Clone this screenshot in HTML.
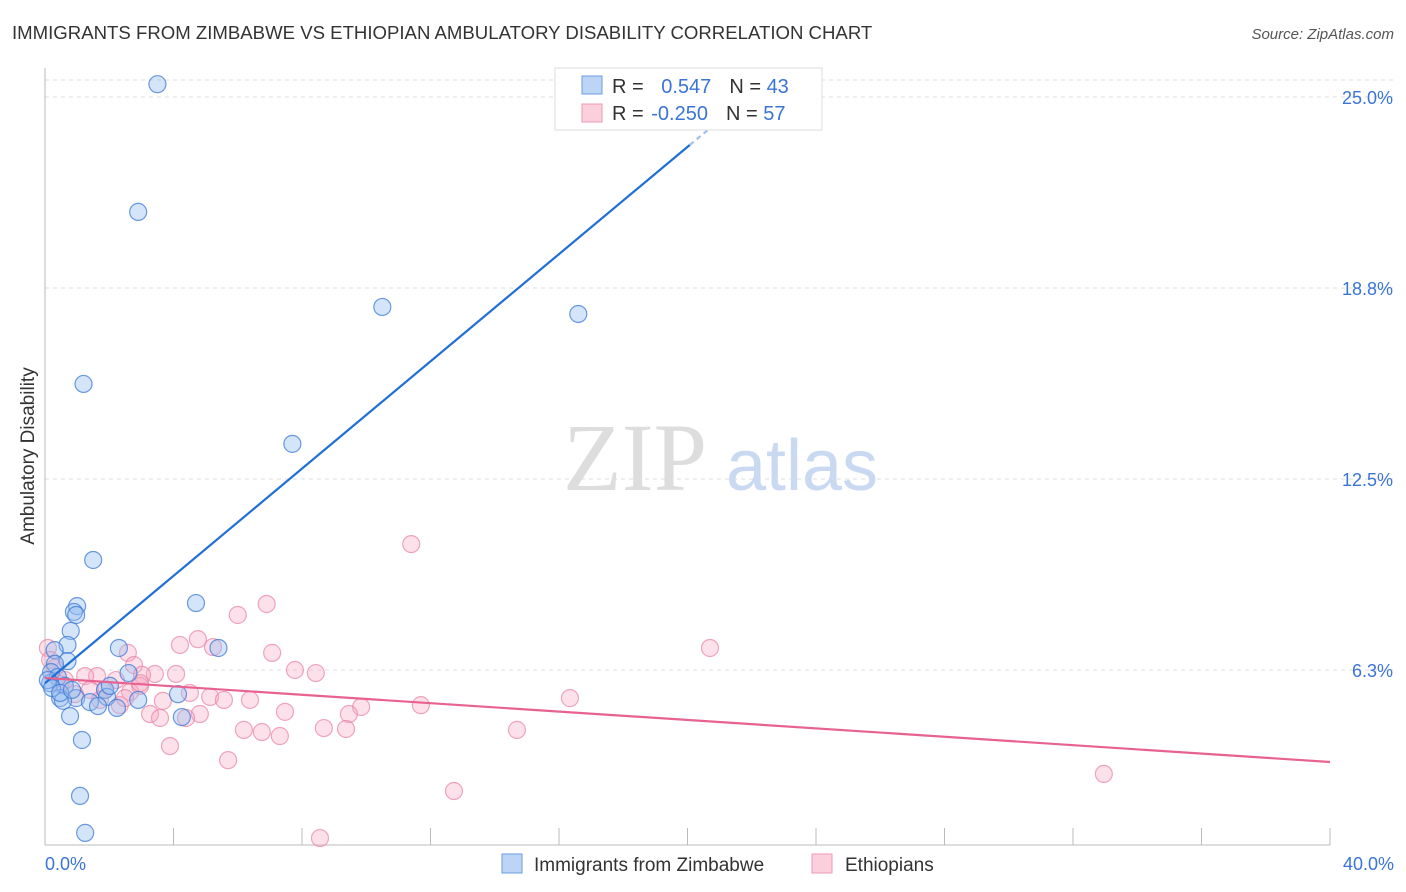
<!DOCTYPE html>
<html><head><meta charset="utf-8"><style>
body{margin:0;background:#fff;font-family:"Liberation Sans",sans-serif}
svg{display:block}
</style></head><body>
<svg width="1406" height="892" viewBox="0 0 1406 892">
<text x="12" y="39" font-size="18.6" fill="#333">IMMIGRANTS FROM ZIMBABWE VS ETHIOPIAN AMBULATORY DISABILITY CORRELATION CHART</text>
<text x="1394" y="39" font-size="15" fill="#555" font-style="italic" text-anchor="end">Source: ZipAtlas.com</text>
<g id="grid"></g>
<line x1="45" y1="68" x2="45" y2="845" stroke="#bbb"/>
<line x1="45" y1="845" x2="1330" y2="845" stroke="#bbb"/>
<g id="xticks"></g>
<text x="34" y="456" font-size="19" fill="#333" transform="rotate(-90 34 456)" text-anchor="middle">Ambulatory Disability</text>
<text x="45" y="870" font-size="18" fill="#3a74d6">0.0%</text>
<text x="1394" y="870" font-size="18" fill="#3a74d6" text-anchor="end">40.0%</text>
<g><text x="635" y="490" font-size="96" fill="#ddd" font-family="Liberation Serif" text-anchor="middle">ZIP</text><text x="802" y="490" font-size="72" fill="#c9d9f2" text-anchor="middle">atlas</text></g>
<g id="pts"></g>
<g id="lines"></g>
<g>
<rect x="555" y="68" width="267" height="62" fill="#fff" stroke="#ddd"/>
<rect x="582" y="76" width="20" height="18" fill="#bcd4f5" stroke="#6a9be0"/>
<rect x="582" y="104" width="20" height="18" fill="#fbd0dc" stroke="#ee9ab3"/>
<text x="612" y="93" font-size="20" fill="#333">R = <tspan fill="#3a74d6" dx="12">0.547</tspan><tspan dx="18" fill="#333">N = </tspan><tspan fill="#3a74d6">43</tspan></text>
<text x="612" y="120" font-size="20" fill="#333">R = <tspan fill="#3a74d6" dx="2">-0.250</tspan><tspan dx="18" fill="#333">N = </tspan><tspan fill="#3a74d6">57</tspan></text>
</g>
<g>
<rect x="502" y="854" width="20" height="19" fill="#bcd4f5" stroke="#6a9be0"/>
<text x="534" y="871" font-size="19" fill="#333">Immigrants from Zimbabwe</text>
<rect x="812" y="854" width="20" height="19" fill="#fbd0dc" stroke="#ee9ab3"/>
<text x="845" y="871" font-size="19" fill="#333">Ethiopians</text>
</g>
</svg>
<script>
const yTicks=[25.0,18.75,12.5,6.25];
const yTickLabels=["25.0%","18.8%","12.5%","6.3%"];
const xTickVals=[0,4,8,12,16,20,24,28,32,36,40];
const zimX=[3.5,2.9,1.2,10.5,16.6,7.7,1.5,4.7,1.0,0.9,0.97,0.8,0.7,2.3,5.4,0.3,0.7,0.31,0.19,2.6,0.4,0.16,0.62,1.87,4.14,0.47,0.97,1.93,0.56,1.4,1.65,2.24,0.78,4.26,1.15,1.09,1.25,0.09,0.22,2.02,2.9,0.47,0.84];
const zimY=[25.42,21.24,15.61,18.13,17.9,13.65,9.85,8.44,8.34,8.15,8.05,7.53,7.07,6.97,6.97,6.9,6.54,6.45,6.18,6.15,6.02,5.82,5.73,5.6,5.46,5.33,5.33,5.37,5.24,5.2,5.07,5.01,4.74,4.71,3.96,2.13,0.92,5.92,5.66,5.73,5.27,5.5,5.6];
const ethX=[11.4,20.7,6.9,6.0,4.76,4.2,5.23,7.07,2.58,2.77,7.78,8.43,4.08,3.42,3.02,1.62,1.25,2.21,0.62,2.96,1.87,4.51,5.14,6.38,5.57,3.67,2.33,16.34,11.7,9.84,7.47,9.46,4.82,3.27,3.58,4.39,8.68,6.19,6.75,7.31,9.37,14.69,3.89,5.7,12.73,32.96,8.56,0.09,0.16,0.31,0.47,0.93,1.4,1.71,2.65,2.96,2.49];
const ethY=[10.37,6.97,8.41,8.05,7.26,7.07,7.0,6.81,6.81,6.41,6.25,6.15,6.12,6.12,6.09,6.05,6.05,5.92,5.92,5.73,5.6,5.5,5.37,5.27,5.27,5.24,5.1,5.33,5.1,5.04,4.88,4.81,4.81,4.81,4.68,4.68,4.35,4.29,4.22,4.09,4.32,4.29,3.76,3.3,2.29,2.85,0.75,6.97,6.58,6.32,5.79,5.46,5.6,5.27,5.53,5.82,5.33];
const zimTrend=[[0,5.82],[20.07,23.43]];
const zimTrendExt=[[20.07,23.43],[21.3,24.5]];
const ethTrend=[[0,5.99],[40,3.24]];
const X=v=>45+v/40*1285, Y=v=>861-v/6.25*191;
const NS="http://www.w3.org/2000/svg";
function mk(t,a,p){const e=document.createElementNS(NS,t);for(const k in a)e.setAttribute(k,a[k]);document.getElementById(p).appendChild(e);return e;}
yTicks.forEach((v,i)=>{
 const l=mk('line',{x1:45,x2:1395,y1:Y(v),y2:Y(v),stroke:'#ddd','stroke-dasharray':'4,4'},'grid');
 
 
 const t=mk('text',{x:1393,y:Y(v)+7,'font-size':18,fill:'#3a74d6','text-anchor':'end'},'grid');
 t.textContent=yTickLabels[i];
 
 
});
mk('line',{x1:45,x2:1395,y1:80,y2:80,stroke:'#ddd','stroke-dasharray':'4,4'},'grid');
xTickVals.forEach(v=>{
 const l=mk('line',{x1:X(v),x2:X(v),y1:828,y2:845,stroke:'#bbb'},'xticks');
 
 
});
ethX.forEach((v,i)=>{
 const c=mk('circle',{cx:X(v),cy:Y(ethY[i]),r:8.5,fill:'rgba(246,170,195,0.35)',stroke:'rgba(232,130,165,0.7)','stroke-width':1.2},'pts');
 
 
});
zimX.forEach((v,i)=>{
 const c=mk('circle',{cx:X(v),cy:Y(zimY[i]),r:8.5,fill:'rgba(150,190,240,0.4)',stroke:'rgba(60,120,215,0.75)','stroke-width':1.2},'pts');
 
 
});
function ln(p,st,dash,name){
 const l=mk('line',{x1:X(p[0][0]),y1:Y(p[0][1]),x2:X(p[1][0]),y2:Y(p[1][1]),stroke:st,'stroke-width':2.2},'lines');
 if(dash)l.setAttribute('stroke-dasharray',dash);
 
 
}
ln(zimTrend,'#1f6fd6',null,'zimbabwe-trend-line');
ln(zimTrendExt,'#9fc0ec','5,4','zimbabwe-trend-extension');
ln(ethTrend,'#e8628f',null,'ethiopians-trend-line');
</script>
</body></html>
